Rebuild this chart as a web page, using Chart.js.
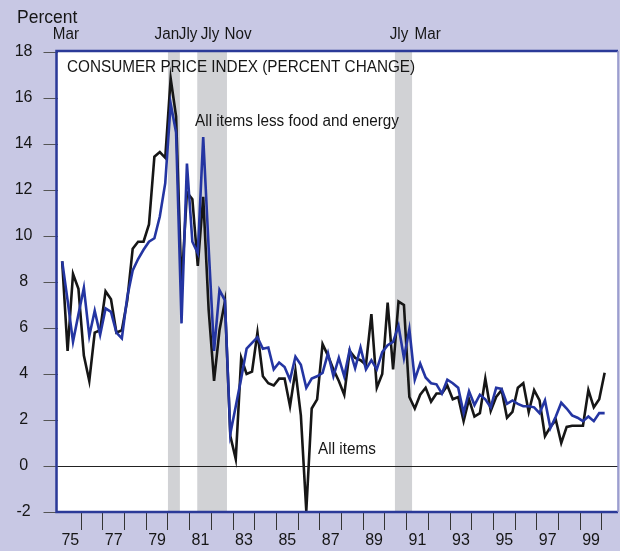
<!DOCTYPE html>
<html>
<head>
<meta charset="utf-8">
<title>Consumer Price Index</title>
<script src="https://cdn.jsdelivr.net/npm/chart.js@4.4.1/dist/chart.umd.min.js"></script>
<style>
  html, body { margin: 0; padding: 0; background: #c8c8e4; }
  #wrap { width: 620px; height: 551px; position: relative; }
</style>
</head>
<body>
<div id="wrap"><canvas id="cpi-chart"></canvas></div>
<script>
// ========================================
// CPI, quarterly, annualized percent change (1975Q1 - 2000Q1)
// ========================================

const firstYear = 1975;

// All items
const allItems = [
    8.9, 5.0, 8.35, 7.7, 4.8, 3.7, 5.8, 5.9, 7.6, 7.25,
    5.8, 5.9, 7.2, 9.45, 9.75, 9.75, 10.5, 13.45, 13.65, 13.4,
    16.85, 15.2, 7.8, 11.9, 11.6, 8.7, 11.7, 6.8, 3.7, 5.9,
    7.15, 1.3, 0.3, 4.7, 4.0, 4.1, 5.8, 3.9, 3.6, 3.5,
    3.8, 3.8, 2.6, 4.15, 2.2, -1.95, 2.5, 2.9, 5.3, 4.8,
    4.2, 3.7, 3.1, 5.0, 4.7, 4.6, 4.4, 6.6, 3.4, 4.0,
    7.1, 4.2, 7.15, 7.0, 3.0, 2.5, 3.1, 3.4, 2.8, 3.15,
    3.15, 3.5, 2.9, 3.0, 1.95, 2.9, 2.15, 2.3, 3.8, 2.4,
    3.0, 3.3, 2.1, 2.35, 3.4, 3.6, 2.35, 3.3, 2.85, 1.3,
    1.7, 2.0, 1.0, 1.7, 1.75, 1.75, 1.75, 3.3, 2.55, 2.9,
    4.05
];

// All items less food and energy
const coreItems = [
    8.9, 7.2, 5.4, 6.6, 7.75, 5.65, 6.75, 5.7, 6.85, 6.7,
    5.8, 5.55, 7.35, 8.5, 9.0, 9.4, 9.75, 9.9, 10.85, 12.3,
    15.75, 14.5, 6.2, 13.15, 9.75, 9.25, 14.3, 9.5, 5.0, 7.65,
    7.2, 1.4, 2.6, 3.8, 5.1, 5.35, 5.6, 5.1, 5.15, 4.2,
    4.5, 4.3, 3.75, 4.75, 4.4, 3.4, 3.8, 3.9, 4.05, 4.9,
    3.9, 4.7, 3.9, 5.05, 4.25, 5.15, 4.2, 4.6, 4.2, 4.95,
    5.25, 5.4, 6.1, 4.7, 5.95, 3.75, 4.45, 3.85, 3.6, 3.55,
    3.15, 3.75, 3.6, 3.4, 2.3, 3.25, 2.65, 3.1, 2.9, 2.55,
    3.4, 3.35, 2.7, 2.85, 2.7, 2.6, 2.6, 2.55, 2.3, 2.85,
    1.65, 2.15, 2.75, 2.5, 2.2, 2.1, 1.95, 2.15, 1.95, 2.3,
    2.3
];

const yTicks = [-2, 0, 2, 4, 6, 8, 10, 12, 14, 16, 18];
const labeledYears = [1975, 1977, 1979, 1981, 1983, 1985, 1987, 1989, 1991, 1993, 1995, 1997, 1999];

// shaded recessions (fractional years)
const recessions = [[1980.0, 1980.55], [1981.35, 1982.72], [1990.46, 1991.25]];
const recessionTags = ['Mar', 'Jan', 'Jly', 'Jly', 'Nov', 'Jly', 'Mar'];
const recessionTagAt = [1975.3, 1979.95, 1980.93, 1981.94, 1983.23, 1990.65, 1991.97];

// quarter midpoints
const qx = i => firstYear + 0.125 + 0.25 * i;
const toPoints = arr => arr.map((v, i) => ({ x: qx(i), y: v }));

const FONT = '"Liberation Sans", Arial, Helvetica, sans-serif';
const INK = '#161616';

// slightly condensed text, left aligned at (x, y)
function narrowText(ctx, text, x, y, squeeze) {
    ctx.save();
    ctx.translate(x, y);
    ctx.scale(squeeze, 1);
    ctx.textAlign = 'left';
    ctx.fillText(text, 0, 0);
    ctx.restore();
}

const decorations = {
    id: 'decorations',
    beforeDraw(chart) {
        const { ctx, chartArea: a, scales: { x } } = chart;
        ctx.save();
        ctx.fillStyle = '#c8c8e4';
        ctx.fillRect(0, 0, chart.width, chart.height);
        ctx.fillStyle = '#ffffff';
        ctx.fillRect(a.left, a.top, a.right - a.left, a.bottom - a.top);
        ctx.fillStyle = '#d1d2d5';
        recessions.forEach(([s, e]) => {
            const x0 = x.getPixelForValue(s);
            const x1 = x.getPixelForValue(e);
            ctx.fillRect(x0, a.top, x1 - x0, a.bottom - a.top);
        });
        ctx.restore();
    },
    afterDraw(chart) {
        const { ctx, chartArea: a, scales: { x, y } } = chart;
        ctx.save();

        // frame
        ctx.lineWidth = 2.5;
        ctx.strokeStyle = '#2b3a98';
        ctx.beginPath();
        ctx.moveTo(a.right, a.top - 1);
        ctx.lineTo(a.left - 1, a.top - 1);
        ctx.lineTo(a.left - 1, a.bottom);
        ctx.lineTo(a.right, a.bottom);
        ctx.stroke();
        ctx.lineWidth = 1.5;
        ctx.strokeStyle = '#8e90c8';
        ctx.beginPath();
        ctx.moveTo(a.right, a.top - 1);
        ctx.lineTo(a.right, a.bottom);
        ctx.stroke();

        ctx.fillStyle = INK;
        ctx.textBaseline = 'middle';

        ctx.font = '17.5px ' + FONT;
        ctx.textAlign = 'left';
        ctx.fillText('Percent', 17, 18);

        ctx.font = '16px ' + FONT;
        ctx.textAlign = 'center';
        recessionTags.forEach((t, i) => {
            narrowText(ctx, t, x.getPixelForValue(recessionTagAt[i]) - ctx.measureText(t).width * 0.475, 35, 0.95);
        });

        narrowText(ctx, 'CONSUMER PRICE INDEX (PERCENT CHANGE)', a.left + 9.5, a.top + 16, 0.955);
        narrowText(ctx, 'All items less food and energy', x.getPixelForValue(1981.25), y.getPixelForValue(14.96), 0.955);
        narrowText(ctx, 'All items', x.getPixelForValue(1986.92), y.getPixelForValue(0.7), 0.955);
        ctx.restore();
    }
};

new Chart(document.getElementById('cpi-chart'), {
    type: 'line',
    data: {
        datasets: [{
            label: 'All items less food and energy',
            data: toPoints(coreItems),
            borderColor: '#2435a2',
            borderWidth: 2.6,
            pointRadius: 0,
            tension: 0
        }, {
            label: 'All items',
            data: toPoints(allItems),
            borderColor: INK,
            borderWidth: 2.6,
            pointRadius: 0,
            tension: 0
        }]
    },
    options: {
        responsive: true,
        maintainAspectRatio: false,
        animation: false,
        events: [],
        layout: { padding: { top: 52, right: 2, bottom: 0, left: 0 } },
        plugins: { legend: { display: false }, tooltip: { enabled: false } },
        scales: {
            x: {
                type: 'linear',
                min: 1974.91,
                max: 2000.74,
                afterBuildTicks: s => {
                    const t = [];
                    for (let yr = 1975; yr <= 2000; yr++) {
                        t.push({ value: yr });
                        t.push({ value: yr + 0.5 });
                    }
                    s.ticks = t;
                },
                afterFit: s => { s.height = 39; },
                border: { display: false },
                grid: {
                    drawOnChartArea: false,
                    tickLength: 18,
                    tickWidth: 1,
                    tickColor: c => (Number.isInteger(c.tick.value) && c.tick.value > 1975) ? '#333' : 'rgba(0,0,0,0)'
                },
                ticks: {
                    autoSkip: false,
                    maxRotation: 0,
                    padding: 1,
                    color: INK,
                    font: { family: FONT, size: 16 },
                    callback: v => {
                        const yr = Math.floor(v);
                        return (v - yr === 0.5 && labeledYears.includes(yr)) ? String(yr).slice(2) : '';
                    }
                }
            },
            y: {
                min: -2,
                max: 18,
                afterBuildTicks: s => { s.ticks = yTicks.map(v => ({ value: v })); },
                afterFit: s => { s.width = 57.5; },
                border: { display: false },
                grid: {
                    color: c => (c.tick && c.tick.value === 0) ? '#222' : 'rgba(0,0,0,0)',
                    lineWidth: 1,
                    tickLength: 14,
                    tickWidth: 1,
                    tickColor: '#555'
                },
                ticks: {
                    padding: 11,
                    crossAlign: 'center',
                    color: INK,
                    font: { family: FONT, size: 16 }
                }
            }
        }
    },
    plugins: [decorations]
});
</script>
</body>
</html>
